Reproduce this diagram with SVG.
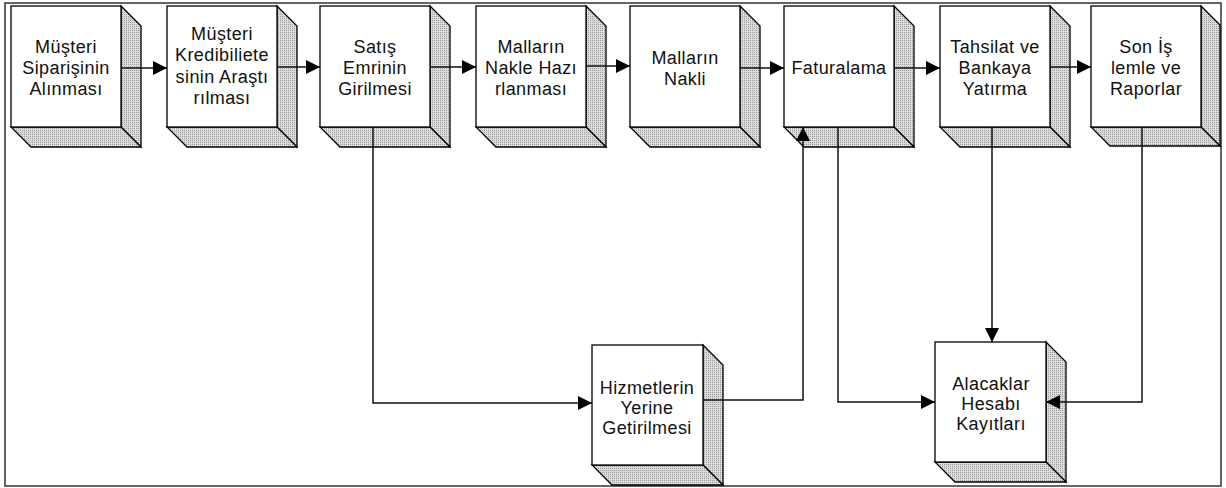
<svg xmlns="http://www.w3.org/2000/svg" width="1226" height="488" viewBox="0 0 1226 488">
<defs>
<pattern id="dots" width="2" height="2" patternUnits="userSpaceOnUse">
<rect width="2" height="2" fill="#dcdcdc"/>
<rect width="1" height="1" fill="#9a9a9a"/>
</pattern>
<marker id="arr" markerWidth="15" markerHeight="14" refX="14" refY="7" orient="auto" markerUnits="userSpaceOnUse">
<path d="M0,0 L14,7 L0,14 Z" fill="#000"/>
</marker>
</defs>
<style>
.front{fill:#fff;stroke:#000;stroke-width:1.3}
.side{fill:url(#dots);stroke:#000;stroke-width:1.3;stroke-linejoin:miter}
.t{font-family:"Liberation Sans",Arial,sans-serif;font-size:18px;letter-spacing:0.4px;fill:#111;text-anchor:middle}
.c{fill:none;stroke:#111;stroke-width:1.5}
</style>
<rect x="5" y="3" width="1216" height="483" fill="#fff" stroke="#333" stroke-width="1.5"/>

<g id="n1">
<polygon class="side" points="121,6 141,26 141,147 121,127"/>
<polygon class="side" points="11,127 121,127 141,147 31,147"/>
<rect class="front" x="11" y="6" width="110" height="121"/>
<text class="t" x="66" y="53">Müşteri</text>
<text class="t" x="66" y="74">Siparişinin</text>
<text class="t" x="66" y="95">Alınması</text>
</g>
<g id="n2">
<polygon class="side" points="277,6 297,26 297,147 277,127"/>
<polygon class="side" points="167,127 277,127 297,147 187,147"/>
<rect class="front" x="167" y="6" width="110" height="121"/>
<text class="t" x="222" y="40">Müşteri</text>
<text class="t" x="222" y="61">Kredibiliete</text>
<text class="t" x="222" y="83">sinin Araştı</text>
<text class="t" x="222" y="104">rılması</text>
</g>
<g id="n3">
<polygon class="side" points="430,6 450,26 450,147 430,127"/>
<polygon class="side" points="320,127 430,127 450,147 340,147"/>
<rect class="front" x="320" y="6" width="110" height="121"/>
<text class="t" x="375" y="53">Satış</text>
<text class="t" x="375" y="74">Emrinin</text>
<text class="t" x="375" y="95">Girilmesi</text>
</g>
<g id="n4">
<polygon class="side" points="586,6 606,26 606,147 586,127"/>
<polygon class="side" points="476,127 586,127 606,147 496,147"/>
<rect class="front" x="476" y="6" width="110" height="121"/>
<text class="t" x="531" y="53">Malların</text>
<text class="t" x="531" y="74">Nakle Hazı</text>
<text class="t" x="531" y="95">rlanması</text>
</g>
<g id="n5">
<polygon class="side" points="740,6 760,26 760,147 740,127"/>
<polygon class="side" points="630,127 740,127 760,147 650,147"/>
<rect class="front" x="630" y="6" width="110" height="121"/>
<text class="t" x="685" y="64">Malların</text>
<text class="t" x="685" y="85">Nakli</text>
</g>
<g id="n6">
<polygon class="side" points="894,6 914,26 914,147 894,127"/>
<polygon class="side" points="784,127 894,127 914,147 804,147"/>
<rect class="front" x="784" y="6" width="110" height="121"/>
<text class="t" x="839" y="74">Faturalama</text>
</g>
<g id="n7">
<polygon class="side" points="1050,6 1070,26 1070,147 1050,127"/>
<polygon class="side" points="940,127 1050,127 1070,147 960,147"/>
<rect class="front" x="940" y="6" width="110" height="121"/>
<text class="t" x="995" y="53">Tahsilat ve</text>
<text class="t" x="995" y="74">Bankaya</text>
<text class="t" x="995" y="95">Yatırma</text>
</g>
<g id="n8">
<polygon class="side" points="1201,6 1220,25 1220,146 1201,127"/>
<polygon class="side" points="1091,127 1201,127 1220,146 1110,146"/>
<rect class="front" x="1091" y="6" width="110" height="121"/>
<text class="t" x="1146" y="53">Son İş</text>
<text class="t" x="1146" y="74">lemle ve</text>
<text class="t" x="1146" y="95">Raporlar</text>
</g>
<g id="n9">
<polygon class="side" points="703,345 723,365 723,485 703,465"/>
<polygon class="side" points="592,465 703,465 723,485 612,485"/>
<rect class="front" x="592" y="345" width="111" height="120"/>
<text class="t" x="647" y="394">Hizmetlerin</text>
<text class="t" x="647" y="414">Yerine</text>
<text class="t" x="647" y="434">Getirilmesi</text>
</g>
<g id="n10">
<polygon class="side" points="1046,342 1066,362 1066,482 1046,462"/>
<polygon class="side" points="935,462 1046,462 1066,482 955,482"/>
<rect class="front" x="935" y="342" width="111" height="120"/>
<text class="t" x="991" y="390">Alacaklar</text>
<text class="t" x="991" y="410">Hesabı</text>
<text class="t" x="991" y="430">Kayıtları</text>
</g>

<g id="connectors" class="c">
<path class="c" d="M121 68 H167" marker-end="url(#arr)"/>
<path class="c" d="M277 67 H320" marker-end="url(#arr)"/>
<path class="c" d="M430 67 H476" marker-end="url(#arr)"/>
<path class="c" d="M586 66 H630" marker-end="url(#arr)"/>
<path class="c" d="M740 68 H784" marker-end="url(#arr)"/>
<path class="c" d="M894 68 H940" marker-end="url(#arr)"/>
<path class="c" d="M1050 67 H1091" marker-end="url(#arr)"/>
<path class="c" d="M373 127 V403 H592" marker-end="url(#arr)"/>
<path class="c" d="M703 400 H803 V127" marker-end="url(#arr)"/>
<path class="c" d="M838 127 V402 H935" marker-end="url(#arr)"/>
<path class="c" d="M992 127 V342" marker-end="url(#arr)"/>
<path class="c" d="M1142 127 V402 H1046" marker-end="url(#arr)"/>
</g>
</svg>
